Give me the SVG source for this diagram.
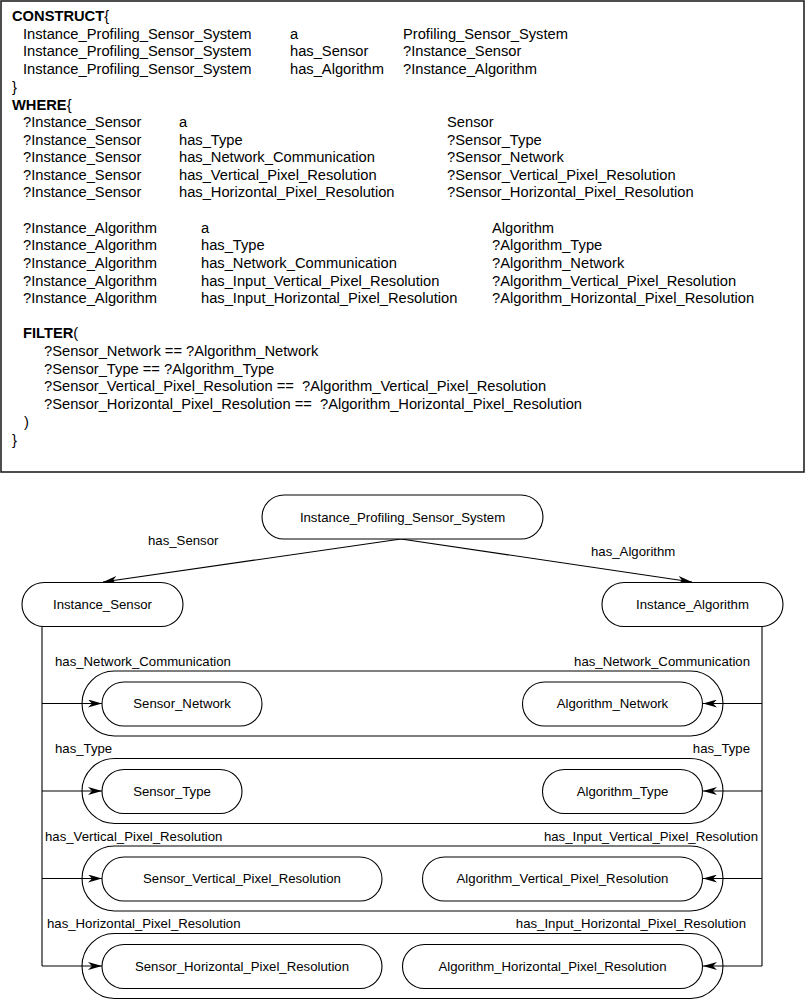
<svg xmlns="http://www.w3.org/2000/svg" width="805" height="1000" viewBox="0 0 805 1000">
<style>
.t{font-family:"Liberation Sans",Arial,sans-serif;font-size:14.7px;fill:#000;white-space:pre}
.b{font-weight:bold}
.d{font-family:"Liberation Sans",Arial,sans-serif;font-size:13.2px;fill:#000}
.c{text-anchor:middle}
.e{text-anchor:end}
.n{fill:#fff;stroke:#000;stroke-width:1.1}
.o{fill:none;stroke:#000;stroke-width:1.1}
.l{fill:none;stroke:#000;stroke-width:1.1}
</style>
<defs>
<marker id="ah" viewBox="0 0 14 8" refX="14" refY="4" markerWidth="14" markerHeight="8" markerUnits="userSpaceOnUse" orient="auto">
<path d="M0,0 L14,4 L0,8 L4,4 Z" fill="#000"/>
</marker>
</defs>
<rect width="805" height="1000" fill="#fff"/>
<g id="query">
<rect x="1" y="1" width="803" height="471" fill="none" stroke="#222" stroke-width="1.6"/>
<text class="t b" x="12" y="21">CONSTRUCT<tspan font-weight="normal">{</tspan></text>
<text class="t" x="23" y="38.7">Instance_Profiling_Sensor_System</text><text class="t" x="290" y="38.7">a</text><text class="t" x="403" y="38.7">Profiling_Sensor_System</text>
<text class="t" x="23" y="56.4">Instance_Profiling_Sensor_System</text><text class="t" x="290" y="56.4">has_Sensor</text><text class="t" x="403" y="56.4">?Instance_Sensor</text>
<text class="t" x="23" y="74.1">Instance_Profiling_Sensor_System</text><text class="t" x="290" y="74.1">has_Algorithm</text><text class="t" x="403" y="74.1">?Instance_Algorithm</text>
<text class="t" x="12" y="91.8">}</text>
<text class="t b" x="12" y="109.5">WHERE<tspan font-weight="normal">{</tspan></text>
<text class="t" x="23" y="127">?Instance_Sensor</text><text class="t" x="179" y="127">a</text><text class="t" x="447" y="127">Sensor</text>
<text class="t" x="23" y="144.6">?Instance_Sensor</text><text class="t" x="179" y="144.6">has_Type</text><text class="t" x="447" y="144.6">?Sensor_Type</text>
<text class="t" x="23" y="162.2">?Instance_Sensor</text><text class="t" x="179" y="162.2">has_Network_Communication</text><text class="t" x="447" y="162.2">?Sensor_Network</text>
<text class="t" x="23" y="179.8">?Instance_Sensor</text><text class="t" x="179" y="179.8">has_Vertical_Pixel_Resolution</text><text class="t" x="447" y="179.8">?Sensor_Vertical_Pixel_Resolution</text>
<text class="t" x="23" y="197.4">?Instance_Sensor</text><text class="t" x="179" y="197.4">has_Horizontal_Pixel_Resolution</text><text class="t" x="447" y="197.4">?Sensor_Horizontal_Pixel_Resolution</text>
<text class="t" x="23" y="232.6">?Instance_Algorithm</text><text class="t" x="201" y="232.6">a</text><text class="t" x="492" y="232.6">Algorithm</text>
<text class="t" x="23" y="250.2">?Instance_Algorithm</text><text class="t" x="201" y="250.2">has_Type</text><text class="t" x="492" y="250.2">?Algorithm_Type</text>
<text class="t" x="23" y="267.8">?Instance_Algorithm</text><text class="t" x="201" y="267.8">has_Network_Communication</text><text class="t" x="492" y="267.8">?Algorithm_Network</text>
<text class="t" x="23" y="285.5">?Instance_Algorithm</text><text class="t" x="201" y="285.5">has_Input_Vertical_Pixel_Resolution</text><text class="t" x="492" y="285.5">?Algorithm_Vertical_Pixel_Resolution</text>
<text class="t" x="23" y="303.2">?Instance_Algorithm</text><text class="t" x="201" y="303.2">has_Input_Horizontal_Pixel_Resolution</text><text class="t" x="492" y="303.2">?Algorithm_Horizontal_Pixel_Resolution</text>
<text class="t b" x="23" y="338.1">FILTER<tspan font-weight="normal">(</tspan></text>
<text class="t" x="44" y="356">?Sensor_Network == ?Algorithm_Network</text>
<text class="t" x="44" y="373.7">?Sensor_Type == ?Algorithm_Type</text>
<text class="t" x="44" y="391.4">?Sensor_Vertical_Pixel_Resolution ==  ?Algorithm_Vertical_Pixel_Resolution</text>
<text class="t" x="44" y="409.1">?Sensor_Horizontal_Pixel_Resolution ==  ?Algorithm_Horizontal_Pixel_Resolution</text>
<text class="t" x="24" y="426.8">)</text>
<text class="t" x="12" y="444.5">}</text>
</g>
<g id="groups">
<rect class="o" x="82" y="671" width="641" height="65" rx="32.5"/>
<rect class="o" x="82" y="758.5" width="641" height="65" rx="32.5"/>
<rect class="o" x="82" y="846" width="641" height="65" rx="32.5"/>
<rect class="o" x="82" y="933.5" width="641" height="65" rx="32.5"/>
</g>
<g id="connectors">
<path class="l" d="M401,539 L103,582" marker-end="url(#ah)"/>
<path class="l" d="M401,539 L692,582" marker-end="url(#ah)"/>
<path class="l" d="M42,627 V966"/>
<path class="l" d="M762,627 V966"/>
<path class="l" d="M42,703.5 H102" marker-end="url(#ah)"/>
<path class="l" d="M42,791 H102" marker-end="url(#ah)"/>
<path class="l" d="M42,878.5 H102" marker-end="url(#ah)"/>
<path class="l" d="M42,966 H102" marker-end="url(#ah)"/>
<path class="l" d="M762,703.5 H703" marker-end="url(#ah)"/>
<path class="l" d="M762,791 H703" marker-end="url(#ah)"/>
<path class="l" d="M762,878.5 H703" marker-end="url(#ah)"/>
<path class="l" d="M762,966 H703" marker-end="url(#ah)"/>
<text class="d" x="148" y="545">has_Sensor</text>
<text class="d" x="591" y="555.5">has_Algorithm</text>
<text class="d" x="55" y="665.5">has_Network_Communication</text>
<text class="d" x="55" y="753">has_Type</text>
<text class="d" x="45" y="840.5">has_Vertical_Pixel_Resolution</text>
<text class="d" x="47" y="927.5">has_Horizontal_Pixel_Resolution</text>
<text class="d e" x="750" y="665.5">has_Network_Communication</text>
<text class="d e" x="750" y="753">has_Type</text>
<text class="d e" x="758" y="840.5">has_Input_Vertical_Pixel_Resolution</text>
<text class="d e" x="746" y="927.5">has_Input_Horizontal_Pixel_Resolution</text>
</g>
<g id="n_system"><rect class="n" x="262" y="495" width="281" height="44" rx="22"/><text class="d c" x="402.5" y="521.7">Instance_Profiling_Sensor_System</text></g>
<g id="n_sensor"><rect class="n" x="22" y="582.5" width="161" height="44" rx="22"/><text class="d c" x="102.5" y="609.2">Instance_Sensor</text></g>
<g id="n_algorithm"><rect class="n" x="602" y="582.5" width="181" height="44" rx="22"/><text class="d c" x="692.5" y="609.2">Instance_Algorithm</text></g>
<g id="n_sensor_network"><rect class="n" x="102" y="682" width="160" height="44" rx="22"/><text class="d c" x="182" y="708.2">Sensor_Network</text></g>
<g id="n_algorithm_network"><rect class="n" x="522.5" y="682" width="180" height="44" rx="22"/><text class="d c" x="612.5" y="708.2">Algorithm_Network</text></g>
<g id="n_sensor_type"><rect class="n" x="102" y="769.5" width="140" height="44" rx="22"/><text class="d c" x="172" y="795.7">Sensor_Type</text></g>
<g id="n_algorithm_type"><rect class="n" x="542.5" y="769.5" width="160" height="44" rx="22"/><text class="d c" x="622.5" y="795.7">Algorithm_Type</text></g>
<g id="n_sensor_vpr"><rect class="n" x="102" y="857" width="280" height="44" rx="22"/><text class="d c" x="242" y="883.2">Sensor_Vertical_Pixel_Resolution</text></g>
<g id="n_algorithm_vpr"><rect class="n" x="422.5" y="857" width="280" height="44" rx="22"/><text class="d c" x="562.5" y="883.2">Algorithm_Vertical_Pixel_Resolution</text></g>
<g id="n_sensor_hpr"><rect class="n" x="102" y="944.5" width="280" height="44" rx="22"/><text class="d c" x="242" y="970.7">Sensor_Horizontal_Pixel_Resolution</text></g>
<g id="n_algorithm_hpr"><rect class="n" x="402.5" y="944.5" width="300" height="44" rx="22"/><text class="d c" x="552.5" y="970.7">Algorithm_Horizontal_Pixel_Resolution</text></g>
</svg>
